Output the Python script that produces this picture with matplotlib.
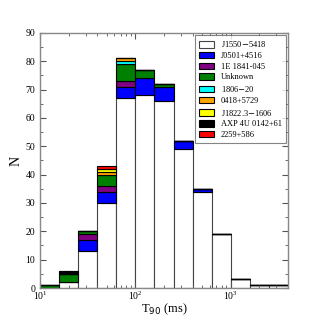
import numpy as np
import matplotlib.pyplot as plt

plt.rcParams['font.family'] = ['Liberation Serif', 'DejaVu Serif']

edges = 10 ** np.arange(1.0, 3.61, 0.2)

names = ["J1550$-$5418", "J0501+4516", "1E 1841-045", "Unknown", "1806$-$20",
         "0418+5729", "J1822.3$-$1606", "AXP 4U 0142+61", "2259+586"]
colors = ["white", "blue", "purple", "green", "cyan", "orange", "yellow", "black", "red"]

j1550 = [0, 2, 13, 30, 67, 68, 66, 49, 34, 19, 3, 1, 1]
j0501 = [0, 0, 4, 4, 4, 6, 5, 3, 1, 0, 0, 0, 0]
e1841 = [0, 0, 2, 2, 2, 0, 0, 0, 0, 0, 0, 0, 0]
unknown = [1, 3, 1, 4, 6, 3, 1, 0, 0, 0, 0, 0, 0]
s1806 = [0, 0, 0, 0, 1, 0, 0, 0, 0, 0, 0, 0, 0]
s0418 = [0, 0, 0, 1, 1, 0, 0, 0, 0, 0, 0, 0, 0]
j1822 = [0, 0, 0, 1, 0, 0, 0, 0, 0, 0, 0, 0, 0]
axp = [0, 1, 0, 0, 0, 0, 0, 0, 0, 0, 0, 0, 0]
s2259 = [0, 0, 0, 1, 0, 0, 0, 0, 0, 0, 0, 0, 0]

series = [j1550, j0501, e1841, unknown, s1806, s0418, j1822, axp, s2259]

fig = plt.figure(figsize=(3.2, 3.2), dpi=100)
ax = fig.add_axes([0.125, 0.1, 0.775, 0.797])

left = edges[:-1]
width = np.diff(edges)
bottom = np.zeros(len(left))
for name, col, vals in zip(names, colors, series):
    vals = np.array(vals)
    ec = '#444444' if col == 'white' else 'black'
    ax.bar(left, vals, width=width, bottom=bottom, align='edge', color=col,
           edgecolor=ec, linewidth=0.8, label=name)
    bottom += vals

ax.set_xscale('log')
ax.set_xlim(10, 10 ** 3.6)
ax.set_ylim(0, 90)
ax.set_yticks(range(0, 91, 10))
ax.set_yticks(range(5, 90, 10), minor=True)
ax.tick_params(which='both', direction='in', top=True, right=True, labelsize=7, colors='#555555', labelcolor='black')
ax.tick_params(which='major', length=4)
ax.tick_params(which='minor', length=2)
ax.tick_params(axis='x', pad=1)
for s in ax.spines.values():
    s.set_color('#888888')
    s.set_linewidth(1.0)

ax.set_xlabel("T$_{90}$ (ms)", fontsize=9, labelpad=0)
ax.set_ylabel("N", fontsize=10, labelpad=2)

leg = ax.legend(loc='upper right', fontsize=6, frameon=True, fancybox=False,
                edgecolor='#666666', handlelength=1.8, handleheight=0.8,
                labelspacing=0.32, borderpad=0.45, borderaxespad=0.3)
leg.get_frame().set_linewidth(0.8)

fig.savefig("out.png", dpi=100)
